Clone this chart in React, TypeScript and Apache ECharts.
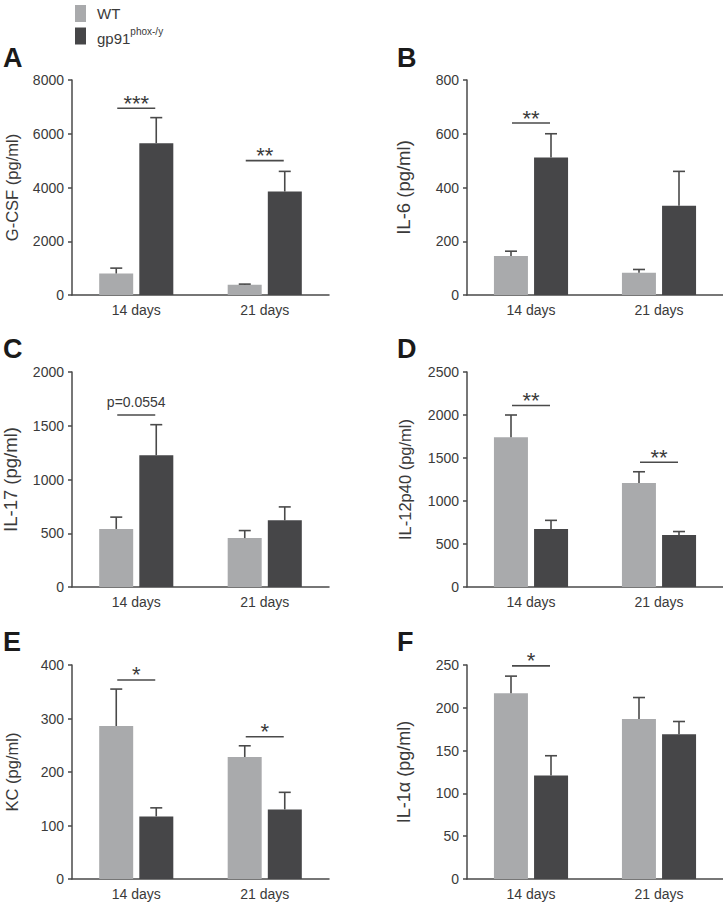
import React, { useEffect, useRef } from 'react';
import * as echarts from 'echarts';

const categories = ['14 days', '21 days'];
const groupNames = ['WT', 'gp91phox-/y'];

// Panel A: G-CSF
const gcsfWT = [800, 380];
const gcsfWTSem = [200, 25];
const gcsfGp = [5650, 3850];
const gcsfGpSem = [950, 750];
const gcsfSig = [{ cat: 0, y: 6950, text: '***' }, { cat: 1, y: 5000, text: '**' }];

// Panel B: IL-6
const il6WT = [145, 83];
const il6WTSem = [18, 12];
const il6Gp = [512, 332];
const il6GpSem = [88, 128];
const il6Sig = [{ cat: 0, y: 640, text: '**' }];

// Panel C: IL-17
const il17WT = [540, 455];
const il17WTSem = [110, 70];
const il17Gp = [1225, 620];
const il17GpSem = [285, 125];
const il17Sig = [{ cat: 0, y: 1600, text: 'p=0.0554' }];

// Panel D: IL-12p40
const il12WT = [1740, 1210];
const il12WTSem = [260, 130];
const il12Gp = [675, 605];
const il12GpSem = [100, 40];
const il12Sig = [{ cat: 0, y: 2110, text: '**' }, { cat: 1, y: 1450, text: '**' }];

// Panel E: KC
const kcWT = [286, 228];
const kcWTSem = [69, 21];
const kcGp = [117, 130];
const kcGpSem = [16, 32];
const kcSig = [{ cat: 0, y: 372, text: '*' }, { cat: 1, y: 266, text: '*' }];

// Panel F: IL-1α
const il1aWT = [217, 187];
const il1aWTSem = [20, 25];
const il1aGp = [121, 169];
const il1aGpSem = [23, 15];
const il1aSig = [{ cat: 0, y: 249, text: '*' }];

const yTicksA = { max: 8000, interval: 2000 };
const yTicksB = { max: 800, interval: 200 };
const yTicksC = { max: 2000, interval: 500 };
const yTicksD = { max: 2500, interval: 500 };
const yTicksE = { max: 400, interval: 100 };
const yTicksF = { max: 250, interval: 50 };

const panels = [
  { letter: 'A', name: 'G-CSF (pg/ml)', wt: gcsfWT, wtSem: gcsfWTSem, gp: gcsfGp, gpSem: gcsfGpSem, sig: gcsfSig, ticks: yTicksA },
  { letter: 'B', name: 'IL-6 (pg/ml)', wt: il6WT, wtSem: il6WTSem, gp: il6Gp, gpSem: il6GpSem, sig: il6Sig, ticks: yTicksB },
  { letter: 'C', name: 'IL-17 (pg/ml)', wt: il17WT, wtSem: il17WTSem, gp: il17Gp, gpSem: il17GpSem, sig: il17Sig, ticks: yTicksC },
  { letter: 'D', name: 'IL-12p40 (pg/ml)', wt: il12WT, wtSem: il12WTSem, gp: il12Gp, gpSem: il12GpSem, sig: il12Sig, ticks: yTicksD },
  { letter: 'E', name: 'KC (pg/ml)', wt: kcWT, wtSem: kcWTSem, gp: kcGp, gpSem: kcGpSem, sig: kcSig, ticks: yTicksE },
  { letter: 'F', name: 'IL-1α (pg/ml)', wt: il1aWT, wtSem: il1aWTSem, gp: il1aGp, gpSem: il1aGpSem, sig: il1aSig, ticks: yTicksF },
];

// layout (pixels)
const gridLayout = [
  { left: 72, top: 80, width: 257, height: 215, nameSize: 16.5, nameGap: 52, letterX: 3, letterY: 58 },
  { left: 467, top: 80, width: 256, height: 215, nameSize: 18.5, nameGap: 54, letterX: 397, letterY: 58 },
  { left: 72, top: 372, width: 257, height: 215, nameSize: 18.5, nameGap: 52, letterX: 3, letterY: 349 },
  { left: 467, top: 372, width: 256, height: 215, nameSize: 16.5, nameGap: 54, letterX: 397, letterY: 349 },
  { left: 72, top: 665, width: 257, height: 214, nameSize: 16.5, nameGap: 52, letterX: 3, letterY: 642 },
  { left: 467, top: 665, width: 256, height: 214, nameSize: 18, nameGap: 54, letterX: 397, letterY: 642 },
];

const FONT = '"Liberation Sans", Arial, Helvetica, sans-serif';
const WT_COLOR = '#a9aaac';
const GP_COLOR = '#464648';
const AXIS_COLOR = '#4a4a4a';
const TEXT_COLOR = '#3a3a3a';
const BAR_W = 34;
const HALF_OFFSET = 20;

function errorSeries(i: number, means: number[], sems: number[], offset: number) {
  return {
    type: 'custom',
    xAxisIndex: i,
    yAxisIndex: i,
    z: 5,
    silent: true,
    encode: { x: 0, y: 1 },
    data: means.map((m, k) => [k, m, sems[k]]),
    renderItem: (params: any, api: any) => {
      const cat = api.value(0);
      const mean = api.value(1);
      const sem = api.value(2);
      const p0 = api.coord([cat, mean]);
      const p1 = api.coord([cat, mean + sem]);
      const x = p0[0] + offset;
      const style = { stroke: AXIS_COLOR, lineWidth: 1.6, fill: 'none' };
      return {
        type: 'group',
        children: [
          { type: 'line', shape: { x1: x, y1: p0[1], x2: x, y2: p1[1] }, style },
          { type: 'line', shape: { x1: x - 6, y1: p1[1], x2: x + 6, y2: p1[1] }, style },
        ],
      };
    },
  };
}

function sigSeries(i: number, sig: { cat: number; y: number; text: string }[]) {
  return {
    type: 'custom',
    xAxisIndex: i,
    yAxisIndex: i,
    z: 6,
    silent: true,
    encode: { x: 0, y: 1 },
    data: sig.map((s) => [s.cat, s.y]),
    renderItem: (params: any, api: any) => {
      const s = sig[params.dataIndex];
      const p = api.coord([api.value(0), api.value(1)]);
      const isStar = s.text.charAt(0) === '*';
      return {
        type: 'group',
        children: [
          {
            type: 'line',
            shape: { x1: p[0] - 19, y1: p[1], x2: p[0] + 19, y2: p[1] },
            style: { stroke: AXIS_COLOR, lineWidth: 1.6 },
          },
          {
            type: 'text',
            x: p[0],
            y: p[1] - (isStar ? 5 : 13),
            style: {
              text: s.text,
              fill: TEXT_COLOR,
              fontSize: isStar ? 22 : 14,
              fontFamily: FONT,
              align: 'center',
              verticalAlign: 'middle',
            },
          },
        ],
      };
    },
  };
}

export default function App() {
  const ref = useRef<HTMLDivElement>(null);
  useEffect(() => {
    if (!ref.current) return;
    const chart = echarts.init(ref.current, undefined, { renderer: 'svg' });
    const grids: any[] = [];
    const xAxes: any[] = [];
    const yAxes: any[] = [];
    const series: any[] = [];
    const graphics: any[] = [];
    panels.forEach((p, i) => {
      const g = gridLayout[i];
      grids.push({ left: g.left, top: g.top, width: g.width, height: g.height, containLabel: false });
      xAxes.push({
        type: 'category',
        gridIndex: i,
        data: categories,
        axisLine: { lineStyle: { color: AXIS_COLOR, width: 1.5 } },
        axisTick: { alignWithLabel: true, length: 5, lineStyle: { color: AXIS_COLOR, width: 1.5 } },
        axisLabel: { color: TEXT_COLOR, fontSize: 14, fontFamily: FONT, margin: 8 },
      });
      yAxes.push({
        type: 'value',
        gridIndex: i,
        min: 0,
        max: p.ticks.max,
        interval: p.ticks.interval,
        name: p.name,
        nameLocation: 'middle',
        nameGap: g.nameGap,
        nameTextStyle: { color: TEXT_COLOR, fontSize: g.nameSize, fontFamily: FONT },
        axisLine: { show: true, lineStyle: { color: AXIS_COLOR, width: 1.5 } },
        axisTick: { show: true, length: 4, lineStyle: { color: AXIS_COLOR, width: 1.5 } },
        splitLine: { show: false },
        axisLabel: {
          color: TEXT_COLOR,
          fontSize: 14,
          fontFamily: FONT,
          margin: 8,
          formatter: (v: number) => String(v),
        },
      });
      series.push({
        type: 'bar',
        name: groupNames[0],
        xAxisIndex: i,
        yAxisIndex: i,
        data: p.wt,
        barWidth: BAR_W,
        barGap: '18%',
        itemStyle: { color: WT_COLOR },
      });
      series.push({
        type: 'bar',
        name: groupNames[1],
        xAxisIndex: i,
        yAxisIndex: i,
        data: p.gp,
        barWidth: BAR_W,
        barGap: '18%',
        itemStyle: { color: GP_COLOR },
      });
      series.push(errorSeries(i, p.wt, p.wtSem, -HALF_OFFSET));
      series.push(errorSeries(i, p.gp, p.gpSem, HALF_OFFSET));
      series.push(sigSeries(i, p.sig));
      graphics.push({
        type: 'text',
        left: g.letterX,
        top: g.letterY - 14,
        style: { text: p.letter, fontSize: 27, fontWeight: 'bold', fill: '#1a1a1a', fontFamily: FONT },
      });
    });

    chart.setOption({
      animation: false,
      backgroundColor: '#ffffff',
      legend: {
        orient: 'vertical',
        left: 70,
        top: 0,
        itemWidth: 11,
        itemHeight: 17,
        itemGap: 4,
        icon: 'rect',
        selectedMode: false,
        data: groupNames,
        textStyle: {
          color: TEXT_COLOR,
          fontSize: 15,
          fontFamily: FONT,
          padding: [0, 0, 0, 6],
          rich: {
            a: { fontSize: 15, fontFamily: FONT, color: TEXT_COLOR, verticalAlign: 'bottom', lineHeight: 20 },
            sup: { fontSize: 10, fontFamily: FONT, color: TEXT_COLOR, verticalAlign: 'top', lineHeight: 20 },
          },
        },
        formatter: (name: string) => (name === 'WT' ? name : '{a|gp91}{sup|phox-/y}'),
      },
      grid: grids,
      xAxis: xAxes,
      yAxis: yAxes,
      series,
      graphic: graphics,
    });
    return () => chart.dispose();
  }, []);
  return <div ref={ref} style={{ position: 'absolute', left: 0, top: 0, width: 723, height: 904 }} />;
}
